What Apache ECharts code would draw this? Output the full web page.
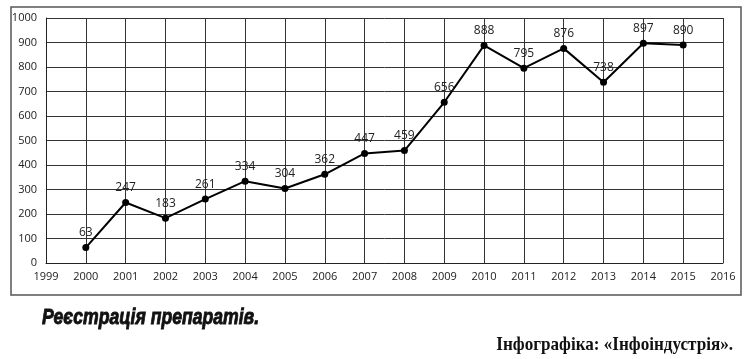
<!DOCTYPE html>
<html><head><meta charset="utf-8">
<script src="https://cdn.jsdelivr.net/npm/echarts@6/dist/echarts.min.js"></script>
<style>html,body{margin:0;padding:0;background:#fff}#c{width:750px;height:359px}</style>
</head><body><div id="c"></div>
<script>
var years = [2000,2001,2002,2003,2004,2005,2006,2007,2008,2009,2010,2011,2012,2013,2014,2015];
var values = [63,247,183,261,334,304,362,447,459,656,888,795,876,738,897,890];
var titleText = 'Реєстрація препаратів.';
var sourceText = 'Інфографіка: «Інфоіндустрія».';

var chart = echarts.init(document.getElementById('c'), null, {renderer:'canvas'});
chart.setOption({
  animation:false,
  backgroundColor:'#fff',
  grid:{left:46,right:27,top:18,bottom:96},
  xAxis:{type:'value',min:1999,max:2016,interval:1,
    axisLine:{show:true,lineStyle:{color:'#222',width:1}},
    axisTick:{show:false},
    splitLine:{show:true,lineStyle:{color:'#333',width:1}},
    axisLabel:{color:'#222',fontSize:11,fontFamily:'Open Sans',margin:8,formatter:function(v){return String(v);}}},
  yAxis:{type:'value',min:0,max:1000,interval:100,
    axisLine:{show:true,lineStyle:{color:'#222',width:1}},
    axisTick:{show:false},
    splitLine:{show:true,lineStyle:{color:'#333',width:1}},
    axisLabel:{color:'#222',fontSize:11,fontFamily:'Open Sans',margin:9,formatter:function(v){return String(v);}}},
  graphic:[
    {type:'rect',shape:{x:11,y:7,width:730,height:288},style:{fill:'none',stroke:'#555',lineWidth:1.5},z:-1},
    {type:'text',x:42,y:329,scaleX:0.8,style:{x:0,y:0,text:titleText,verticalAlign:'bottom',font:'italic bold 22px "Liberation Sans", sans-serif',fill:'#111',stroke:'#111',lineWidth:0.9}},
    {type:'text',x:733,y:355,scaleX:0.9,style:{x:0,y:0,text:sourceText,align:'right',verticalAlign:'bottom',font:'bold 19px "Liberation Serif", serif',fill:'#111'}}
  ],
  series:[{type:'line',data:years.map(function(y,i){return [y,values[i]];}),
    symbol:'circle',symbolSize:7,
    lineStyle:{color:'#000',width:2},
    itemStyle:{color:'#000'},
    label:{show:true,position:'top',distance:5,color:'#222',fontSize:12,fontFamily:'Open Sans'}}]
});
</script></body></html>
